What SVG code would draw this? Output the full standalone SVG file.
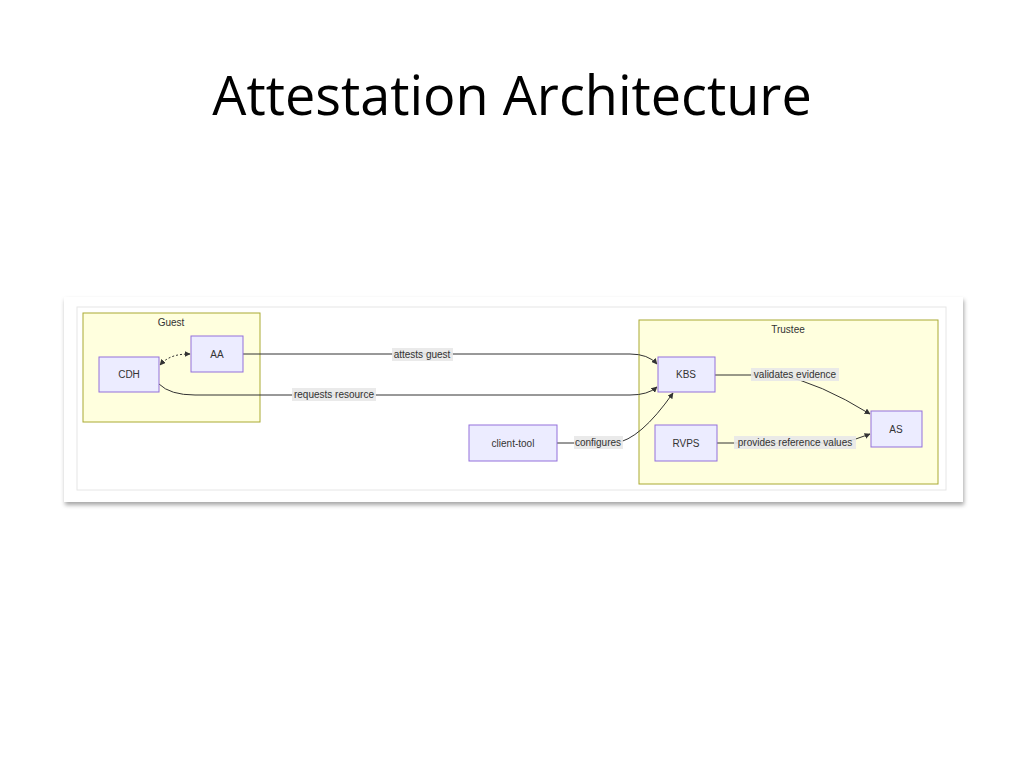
<svg xmlns="http://www.w3.org/2000/svg" width="1024" height="768" viewBox="0 0 1024 768">
<defs>
<marker id="ah" viewBox="0 0 10 10" refX="9" refY="5" markerWidth="6" markerHeight="6" orient="auto-start-reverse"><path d="M0,0 L10,5 L0,10 z" fill="#333"/></marker>
<filter id="sh" x="-5%" y="-10%" width="110%" height="130%"><feDropShadow dx="1" dy="3" stdDeviation="2" flood-color="#000" flood-opacity="0.35"/></filter>
</defs>
<style>
.t{font-family:"Liberation Sans",Arial,sans-serif;fill:#333;font-size:10px;text-anchor:middle}
.n{fill:#ECECFF;stroke:#9370DB;stroke-width:1}
.c{fill:#FFFFDE;stroke:#AAAA33;stroke-width:1}
.e{fill:none;stroke:#333;stroke-width:1;marker-end:url(#ah)}
.lb{fill:#e8e8e8;opacity:0.9}
</style>
<rect width="1024" height="768" fill="#fff"/>
<text x="512" y="115" font-family="'Open Sans','Liberation Sans',sans-serif" font-size="54" text-anchor="middle" fill="#000">Attestation Architecture</text>
<rect x="64" y="297" width="899" height="205" fill="#fff" filter="url(#sh)"/>
<rect x="77" y="307" width="869" height="183" fill="#fff" stroke="#e6e6e6"/>
<g id="Guest"><rect class="c" x="83" y="313" width="177" height="109"/><text class="t" x="171" y="326">Guest</text></g>
<g id="Trustee"><rect class="c" x="639" y="320" width="299" height="164"/><text class="t" x="788" y="333">Trustee</text></g>
<g id="connectors">
<path class="e" d="M190,354 C178,354 168,356 160,365" stroke-dasharray="2,2" marker-start="url(#ah)"/>
<path class="e" d="M243,354 L630,354 Q648,354 657,364"/>
<path class="e" d="M159,384 Q170,395 195,395 L630,395 Q648,395 657,387"/>
<path class="e" d="M557,443 L615,443 Q640,440 673,393"/>
<path class="e" d="M715,375 L780,375 Q820,383 870,414"/>
<path class="e" d="M717,443 L840,443 Q855,440 870,434"/>
<rect class="lb" x="392" y="348" width="61" height="13"/><text class="t" x="422" y="358">attests guest</text>
<rect class="lb" x="292" y="388" width="84" height="13"/><text class="t" x="334" y="398">requests resource</text>
<rect class="lb" x="574" y="436" width="49" height="13"/><text class="t" x="598" y="446">configures</text>
<rect class="lb" x="751" y="368" width="88" height="13"/><text class="t" x="795" y="378">validates evidence</text>
<rect class="lb" x="734" y="436" width="122" height="13"/><text class="t" x="795" y="446">provides reference values</text>
</g>
<g id="CDH"><rect class="n" x="99" y="357" width="60" height="35"/><text class="t" x="129" y="378">CDH</text></g>
<g id="AA"><rect class="n" x="191" y="336" width="52" height="36"/><text class="t" x="217" y="358">AA</text></g>
<g id="client-tool"><rect class="n" x="469" y="425" width="88" height="36"/><text class="t" x="513" y="447">client-tool</text></g>
<g id="KBS"><rect class="n" x="658" y="357" width="57" height="35"/><text class="t" x="686" y="378">KBS</text></g>
<g id="RVPS"><rect class="n" x="655" y="425" width="62" height="36"/><text class="t" x="686" y="447">RVPS</text></g>
<g id="AS"><rect class="n" x="871" y="411" width="51" height="36"/><text class="t" x="896" y="433">AS</text></g>
</svg>
